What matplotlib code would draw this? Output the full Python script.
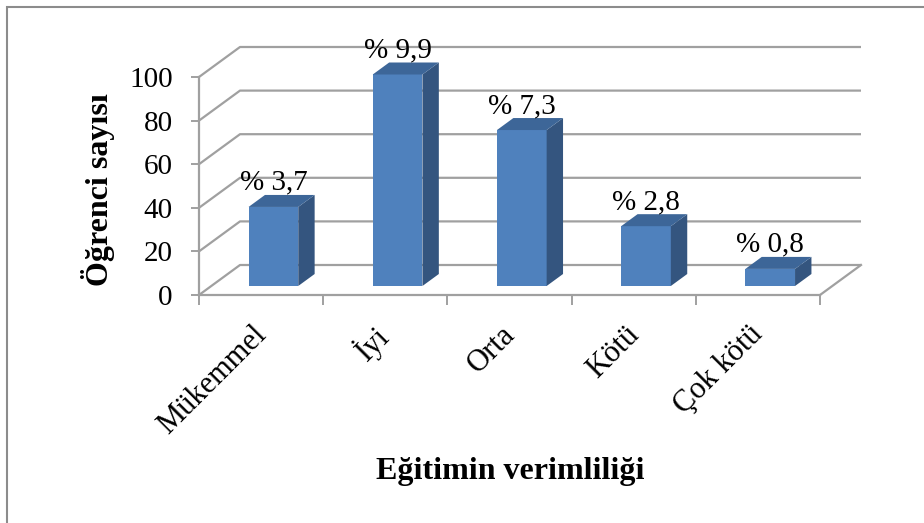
import matplotlib
matplotlib.use("Agg")
import matplotlib.pyplot as plt
from matplotlib.patches import Polygon, Rectangle

# Eğitimin verimliliği anketi - öğrenci sayıları
categories = ["Mükemmel", "İyi", "Orta", "Kötü", "Çok kötü"]
counts = [37, 99, 73, 28, 8]
value_labels = ["% 3,7", "% 9,9", "% 7,3", "% 2,8", "% 0,8"]
y_ticks = [0, 20, 40, 60, 80, 100]

FONT = "Liberation Serif"
FRONT = "#4f81bd"
SIDE = "#34557f"
TOP = "#3d6698"
GRID = "#a0a0a0"

plt.rcParams["font.family"] = [FONT, "DejaVu Serif"]

fig = plt.figure(figsize=(9.24, 5.23), dpi=100)
fig.patch.set_facecolor("white")

# axes: x=-0.5..4.5, y=0..100 on the front plane
ax = fig.add_axes([199 / 924, 228 / 523, 621 / 924, 218 / 523])
ax.set_xlim(-0.5, len(categories) - 0.5)
ax.set_ylim(0, 100)
ax.patch.set_visible(False)

# oblique depth of the 3D box (data units)
DX = 41 / 124.2
DY = 30 / 2.18
# bars sit a little behind the front plane -> slight perspective shrink
PERSP = 0.98

# back wall + side wall gridlines
x_left, x_right = -0.5, len(categories) - 0.5
for v in y_ticks:
    ax.plot([x_left, x_left + DX, x_right + DX], [v, v + DY, v + DY],
            color=GRID, lw=1.6, zorder=1, clip_on=False, solid_capstyle="butt")
# floor right edge
ax.plot([x_right, x_right + DX], [0, DY], color=GRID, lw=1.6, zorder=1, clip_on=False)

# 3D bars
w = 0.4
d0, d1 = 0.3, 0.7
for i, v in enumerate(counts):
    h = v * PERSP
    xa, xb = i - w / 2, i + w / 2
    front = Polygon([(xa + d0 * DX, d0 * DY), (xb + d0 * DX, d0 * DY),
                     (xb + d0 * DX, h + d0 * DY), (xa + d0 * DX, h + d0 * DY)],
                    closed=True, facecolor=FRONT, edgecolor="none", zorder=3, clip_on=False)
    side = Polygon([(xb + d0 * DX, d0 * DY), (xb + d1 * DX, d1 * DY),
                    (xb + d1 * DX, h + d1 * DY), (xb + d0 * DX, h + d0 * DY)],
                   closed=True, facecolor=SIDE, edgecolor="none", zorder=3, clip_on=False)
    top = Polygon([(xa + d0 * DX, h + d0 * DY), (xb + d0 * DX, h + d0 * DY),
                   (xb + d1 * DX, h + d1 * DY), (xa + d1 * DX, h + d1 * DY)],
                  closed=True, facecolor=TOP, edgecolor="none", zorder=3, clip_on=False)
    for p in (front, side, top):
        ax.add_patch(p)
    ax.text(i + 0.1, h + 12, value_labels[i], ha="center", va="baseline",
            fontsize=21, color="black", zorder=5)

# axes spines and ticks
for s in ("top", "right"):
    ax.spines[s].set_visible(False)
for s in ("left", "bottom"):
    ax.spines[s].set_color(GRID)
    ax.spines[s].set_linewidth(1.6)

ax.set_yticks(y_ticks)
ax.set_yticklabels([str(t) for t in y_ticks])
ax.tick_params(axis="y", length=6, width=1.4, color=GRID, pad=13, labelsize=21)

ax.set_xticks([k - 0.5 for k in range(len(categories) + 1)])
ax.set_xticklabels([])
ax.tick_params(axis="x", length=7, width=1.4, color=GRID)

for i, name in enumerate(categories):
    ax.annotate(name, xy=(i, 0), xytext=(8, -18), textcoords="offset points",
                rotation=45, ha="right", va="top", fontsize=22)

fig.text(98 / 924, 1 - 190 / 523, "Öğrenci sayısı", rotation=90, ha="center", va="center",
         fontsize=23, fontweight="bold")
fig.text(510 / 924, 1 - 472 / 523, "Eğitimin verimliliği", ha="center", va="center",
         fontsize=23, fontweight="bold")

# chart border
fig.add_artist(Rectangle((6.5 / 924, -0.05), 1.2, 1 - 6.5 / 523 + 0.05, transform=fig.transFigure,
                         fill=False, edgecolor="#8c8c8c", lw=1.5))

fig.savefig("out.png", dpi=100, facecolor="white")
